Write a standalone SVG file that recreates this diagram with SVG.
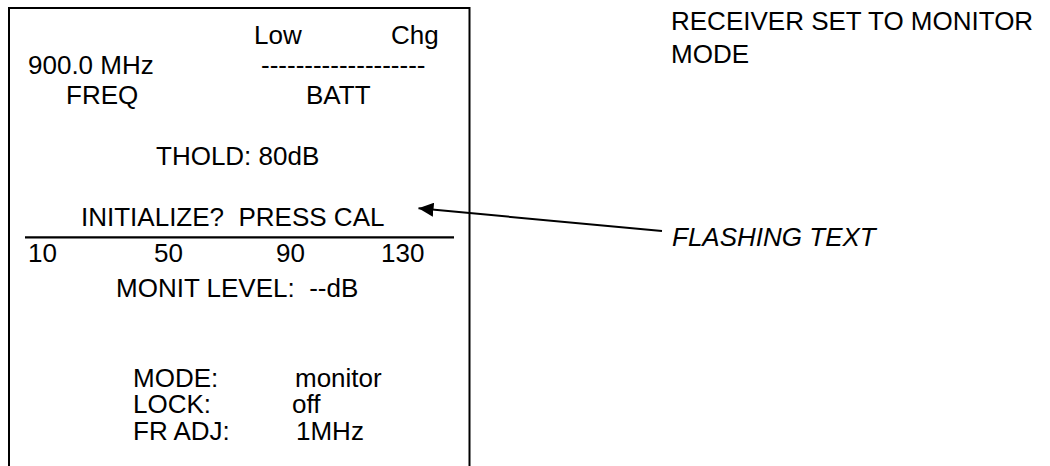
<svg xmlns="http://www.w3.org/2000/svg" width="1050" height="466" viewBox="0 0 1050 466">
<style>
text{font-family:"Liberation Sans",Arial,sans-serif;font-size:26px;fill:#000}
.it{font-style:italic}
.ln{stroke:#000;fill:none}
</style>
<defs>
<marker id="ah" markerWidth="16" markerHeight="14" refX="15" refY="7" orient="auto" markerUnits="userSpaceOnUse">
<path d="M0,0 L15,7 L0,14 Z" fill="#000"/>
</marker>
</defs>
<rect width="1050" height="466" fill="#fff"/>
<g id="display">
<path class="ln" stroke-width="2" d="M9,470 V8 H469.5 V470"/>
<line class="ln" stroke-width="2.2" x1="25" y1="237.3" x2="454" y2="237.3"/>
<text x="254" y="44">Low</text>
<text x="391" y="44">Chg</text>
<text x="28" y="74">900.0 MHz</text>
<text x="261" y="74">-------------------</text>
<text x="66" y="104">FREQ</text>
<text x="306" y="104">BATT</text>
<text x="156" y="165">THOLD: 80dB</text>
<text x="81" y="226" xml:space="preserve">INITIALIZE?  PRESS CAL</text>
<text x="28" y="262">10</text>
<text x="154" y="262">50</text>
<text x="276" y="262">90</text>
<text x="381" y="262">130</text>
<text x="116" y="297" xml:space="preserve">MONIT LEVEL:  --dB</text>
<text x="133" y="387">MODE:</text>
<text x="295" y="387">monitor</text>
<text x="133" y="413">LOCK:</text>
<text x="292" y="413">off</text>
<text x="133" y="440">FR ADJ:</text>
<text x="296" y="440">1MHz</text>
</g>
<g id="title">
<text x="671" y="30">RECEIVER SET TO MONITOR</text>
<text x="671" y="63">MODE</text>
</g>
<g id="flashing-label">
<text class="it" x="672" y="246">FLASHING TEXT</text>
</g>
<g id="connectors">
<line class="ln" stroke-width="2" x1="662" y1="231" x2="418.5" y2="208.3" marker-end="url(#ah)"/>
</g>
</svg>
